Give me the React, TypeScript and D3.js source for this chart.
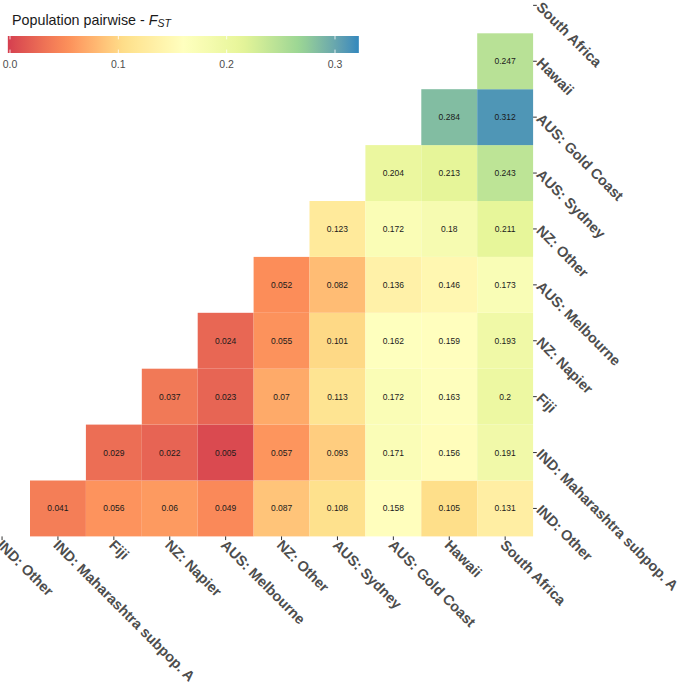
import React from "react";
import * as d3 from "d3";

// Populations, in axis order (x left→right, y bottom→top)
const populations = [
  "IND: Other",
  "IND: Maharashtra subpop. A",
  "Fiji",
  "NZ: Napier",
  "AUS: Melbourne",
  "NZ: Other",
  "AUS: Sydney",
  "AUS: Gold Coast",
  "Hawaii",
  "South Africa",
];

// Pairwise FST per row (row population vs every later population)
const fstIndOther = [0.041, 0.056, 0.06, 0.049, 0.087, 0.108, 0.158, 0.105, 0.131];
const fstMaharashtra = [0.029, 0.022, 0.005, 0.057, 0.093, 0.171, 0.156, 0.191];
const fstFiji = [0.037, 0.023, 0.07, 0.113, 0.172, 0.163, 0.2];
const fstNapier = [0.024, 0.055, 0.101, 0.162, 0.159, 0.193];
const fstMelbourne = [0.052, 0.082, 0.136, 0.146, 0.173];
const fstNZOther = [0.123, 0.172, 0.18, 0.211];
const fstSydney = [0.204, 0.213, 0.243];
const fstGoldCoast = [0.284, 0.312];
const fstHawaii = [0.247];

const rowValues = [
  fstIndOther,
  fstMaharashtra,
  fstFiji,
  fstNapier,
  fstMelbourne,
  fstNZOther,
  fstSydney,
  fstGoldCoast,
  fstHawaii,
];

const legendTicks = [0.0, 0.1, 0.2, 0.3];
const colorLimits = [-0.002, 0.322];
const spectral = ["#D53E4F", "#FC8D59", "#FEE08B", "#FFFFBF", "#E6F598", "#99D594", "#3288BD"];

const FONT = "'Liberation Sans', Arial, Helvetica, sans-serif";

export default function App() {
  const W = 685;
  const H = 685;
  const cell = 55.9;
  const left = 30 - cell;
  const bottom = 536.4;
  const axisFont = 14.4;

  const x = d3.scaleBand<string>().domain(populations).range([left, left + cell * populations.length]);
  const y = d3
    .scaleBand<string>()
    .domain(populations.slice().reverse())
    .range([bottom - cell * populations.length, bottom]);

  const stops = spectral.map((_, i) => colorLimits[0] + (i / (spectral.length - 1)) * (colorLimits[1] - colorLimits[0]));
  const color = d3.scaleLinear<string>().domain(stops).range(spectral).interpolate(d3.interpolateLab).clamp(true);

  const cells: { xi: number; yi: number; v: number }[] = [];
  rowValues.forEach((vals, yi) => {
    vals.forEach((v, k) => cells.push({ xi: yi + 1 + k, yi, v }));
  });

  // legend scale
  const lx = d3.scaleLinear().domain([0, 0.3]).range([10, 335]);
  const barTop = 36;
  const barH = 17;
  const gradStops = d3.range(0, 41).map((i) => {
    const v = colorLimits[0] + (i / 40) * (colorLimits[1] - colorLimits[0]);
    return { off: i / 40, c: color(v) };
  });

  const axisColor = "#4D4D4D";
  const rightX = x.range()[1];

  return (
    <svg width={W} height={H} style={{ position: "absolute", left: 0, top: 0, background: "#fff" }}>
      <defs>
        <linearGradient id="fstgrad" x1="0" x2="1" y1="0" y2="0">
          {gradStops.map((s, i) => (
            <stop key={i} offset={s.off} stopColor={s.c} />
          ))}
        </linearGradient>
      </defs>

      {/* tiles */}
      {cells.map((c, i) => (
        <rect
          key={"r" + i}
          x={x(populations[c.xi])!}
          y={y(populations[c.yi])!}
          width={x.bandwidth()}
          height={y.bandwidth()}
          fill={color(c.v)}
        />
      ))}
      {cells.map((c, i) => (
        <text
          key={"t" + i}
          x={x(populations[c.xi])! + x.bandwidth() / 2}
          y={y(populations[c.yi])! + y.bandwidth() / 2}
          dy="0.35em"
          textAnchor="middle"
          fontFamily={FONT}
          fontSize={8.5}
          fill="#1a1a1a"
        >
          {String(c.v)}
        </text>
      ))}

      {/* x axis */}
      {populations.map((p, i) => {
        const cx = x(p)! + x.bandwidth() / 2;
        return (
          <g key={"xa" + i}>
            <line x1={cx} x2={cx} y1={bottom} y2={bottom + 3.7} stroke="#333" strokeWidth={1} />
            <text
              transform={`translate(${cx - 2},${bottom + 6}) rotate(45)`}
              textAnchor="start"
              dy="0.35em"
              fontFamily={FONT}
              fontWeight="bold"
              fontSize={axisFont}
              fill={axisColor}
            >
              {p}
            </text>
          </g>
        );
      })}

      {/* y axis (right) */}
      {populations.map((p, i) => {
        const cy = y(p)! + y.bandwidth() / 2;
        return (
          <g key={"ya" + i}>
            <line x1={rightX} x2={rightX + 3.7} y1={cy} y2={cy} stroke="#333" strokeWidth={1} />
            <text
              transform={`translate(${rightX + 6},${cy - 1}) rotate(45)`}
              textAnchor="start"
              dy="0.35em"
              fontFamily={FONT}
              fontWeight="bold"
              fontSize={axisFont}
              fill={axisColor}
            >
              {p}
            </text>
          </g>
        );
      })}

      {/* legend */}
      <text x={12} y={25} fontFamily={FONT} fontSize={14.3} fill="#1a1a1a">
        {"Population pairwise - "}
        <tspan fontStyle="italic">F</tspan>
        <tspan fontStyle="italic" fontSize={10.5} dy={2}>
          ST
        </tspan>
      </text>
      <rect
        x={lx(colorLimits[0])}
        y={barTop}
        width={lx(colorLimits[1]) - lx(colorLimits[0])}
        height={barH}
        fill="url(#fstgrad)"
      />
      {legendTicks.map((t, i) => (
        <g key={"lt" + i}>
          <line x1={lx(t)} x2={lx(t)} y1={barTop} y2={barTop + barH / 5} stroke="#fff" strokeWidth={1} strokeOpacity={0.8} />
          <line x1={lx(t)} x2={lx(t)} y1={barTop + barH - barH / 5} y2={barTop + barH} stroke="#fff" strokeWidth={1} strokeOpacity={0.8} />
          <text x={lx(t)} y={68} textAnchor="middle" fontFamily={FONT} fontSize={10.5} fill={axisColor}>
            {d3.format(".1f")(t)}
          </text>
        </g>
      ))}
    </svg>
  );
}
